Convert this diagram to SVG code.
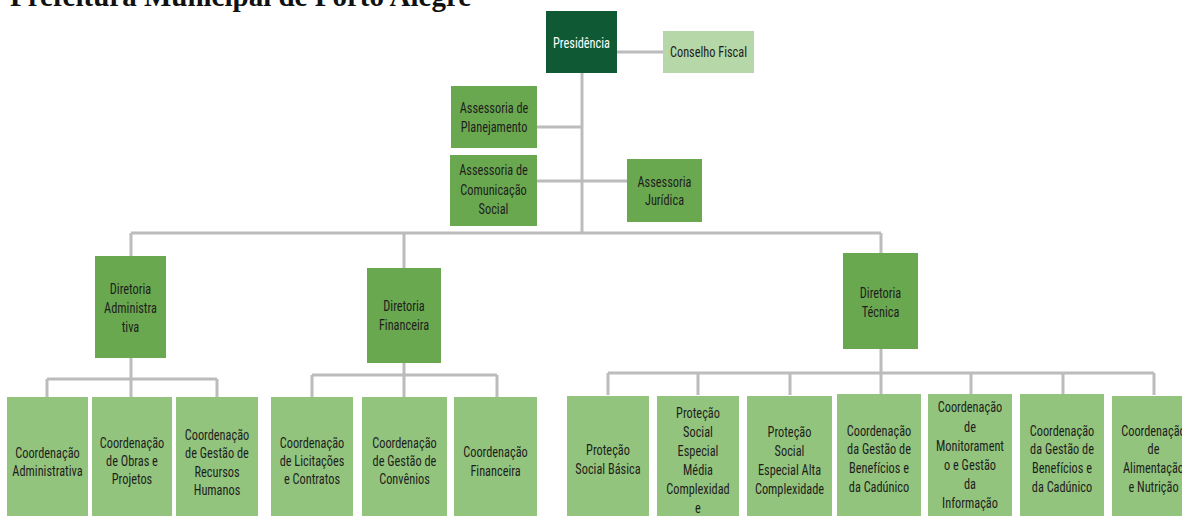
<svg xmlns="http://www.w3.org/2000/svg" width="1182" height="516" viewBox="0 0 1182 516">
  <style>
    .bg { fill: #ffffff; }
    .title { font-family: "Liberation Serif", "Times New Roman", serif; font-weight: bold; font-size: 29px; fill: #111111; }
    .lbl { font-family: "Liberation Sans Narrow", "Arial Narrow", "Roboto Condensed", sans-serif; font-size: 14.5px; fill: #1e1e1e; text-anchor: middle; }
    .lbl-w { fill: #ffffff; }
    .dark { fill: #0f5a35; }
    .mid { fill: #6aa84f; }
    .pale { fill: #b6d7a8; }
    .light { fill: #93c47d; }
    .conn { fill: none; stroke: #bcbcbc; stroke-width: 3; }
  </style>

  <rect class="bg" x="0" y="0" width="1182" height="516"/>

  <text class="title" x="10" y="6">Prefeitura Municipal de Porto Alegre</text>

  <!-- connectors -->
  <g id="connectors" class="conn">
    <path d="M617,52 H663"/>
    <path d="M582,73 V233"/>
    <path d="M537,127 H582"/>
    <path d="M537,181 H627"/>
    <path d="M131,233 H881"/>
    <path d="M131,233 V256 M404,233 V268 M881,233 V253"/>
    <!-- Diretoria Administrativa -->
    <path d="M131,358 V397 M47,379 H217 M47,379 V397 M217,379 V397"/>
    <!-- Diretoria Financeira -->
    <path d="M404,363 V397 M312,375 H497 M312,375 V397 M497,375 V397"/>
    <!-- Diretoria Técnica -->
    <path d="M881,349 V395 M608,373 H1154 M608,373 V395 M698,373 V395 M790,373 V395 M971,373 V395 M1063,373 V395 M1154,373 V395"/>
  </g>

  <!-- labels are set in a condensed face: each text is centred at its box
       centre via translate() and narrowed with scale(0.85 1) -->

  <!-- top level -->
  <g id="presidencia">
    <rect class="dark" x="546" y="11" width="71" height="62"/>
    <text class="lbl lbl-w" transform="translate(581.5 0) scale(0.85 1)" x="0" y="48">Presidência</text>
  </g>
  <g id="conselho-fiscal">
    <rect class="pale" x="663" y="31" width="91" height="42"/>
    <text class="lbl" transform="translate(708.5 0) scale(0.85 1)" x="0" y="57.5">Conselho Fiscal</text>
  </g>
  <g id="assessoria-planejamento">
    <rect class="mid" x="451" y="86" width="86" height="62"/>
    <text class="lbl" transform="translate(494 0) scale(0.85 1)"><tspan x="0" y="113">Assessoria de</tspan><tspan x="0" y="132">Planejamento</tspan></text>
  </g>
  <g id="assessoria-comunicacao">
    <rect class="mid" x="450" y="155" width="87" height="71"/>
    <text class="lbl" transform="translate(493.5 0) scale(0.85 1)"><tspan x="0" y="175">Assessoria de</tspan><tspan x="0" y="195">Comunicação</tspan><tspan x="0" y="214">Social</tspan></text>
  </g>
  <g id="assessoria-juridica">
    <rect class="mid" x="627" y="159" width="75" height="63"/>
    <text class="lbl" transform="translate(664.5 0) scale(0.85 1)"><tspan x="0" y="187">Assessoria</tspan><tspan x="0" y="205">Jurídica</tspan></text>
  </g>

  <!-- directorates -->
  <g id="diretoria-administrativa">
    <rect class="mid" x="95" y="256" width="71" height="102"/>
    <text class="lbl" transform="translate(130.5 0) scale(0.85 1)"><tspan x="0" y="294">Diretoria</tspan><tspan x="0" y="313">Administra</tspan><tspan x="0" y="332">tiva</tspan></text>
  </g>
  <g id="diretoria-financeira">
    <rect class="mid" x="367" y="268" width="74" height="95"/>
    <text class="lbl" transform="translate(404 0) scale(0.85 1)"><tspan x="0" y="311">Diretoria</tspan><tspan x="0" y="330">Financeira</tspan></text>
  </g>
  <g id="diretoria-tecnica">
    <rect class="mid" x="843" y="253" width="75" height="96"/>
    <text class="lbl" transform="translate(880.5 0) scale(0.85 1)"><tspan x="0" y="298">Diretoria</tspan><tspan x="0" y="317">Técnica</tspan></text>
  </g>

  <!-- coordinations -->
  <g id="coord-administrativa">
    <rect class="light" x="7" y="397" width="81" height="125"/>
    <text class="lbl" transform="translate(47.5 0) scale(0.85 1)"><tspan x="0" y="458">Coordenação</tspan><tspan x="0" y="476">Administrativa</tspan></text>
  </g>
  <g id="coord-obras-projetos">
    <rect class="light" x="92" y="397" width="80" height="125"/>
    <text class="lbl" transform="translate(132 0) scale(0.85 1)"><tspan x="0" y="448">Coordenação</tspan><tspan x="0" y="466">de Obras e</tspan><tspan x="0" y="484">Projetos</tspan></text>
  </g>
  <g id="coord-recursos-humanos">
    <rect class="light" x="176" y="397" width="82" height="125"/>
    <text class="lbl" transform="translate(217 0) scale(0.85 1)"><tspan x="0" y="440">Coordenação</tspan><tspan x="0" y="458">de Gestão de</tspan><tspan x="0" y="477">Recursos</tspan><tspan x="0" y="495">Humanos</tspan></text>
  </g>
  <g id="coord-licitacoes">
    <rect class="light" x="271" y="397" width="82" height="125"/>
    <text class="lbl" transform="translate(312 0) scale(0.85 1)"><tspan x="0" y="448">Coordenação</tspan><tspan x="0" y="466">de Licitações</tspan><tspan x="0" y="484">e Contratos</tspan></text>
  </g>
  <g id="coord-convenios">
    <rect class="light" x="362" y="397" width="85" height="125"/>
    <text class="lbl" transform="translate(404.5 0) scale(0.85 1)"><tspan x="0" y="448">Coordenação</tspan><tspan x="0" y="466">de Gestão de</tspan><tspan x="0" y="484">Convênios</tspan></text>
  </g>
  <g id="coord-financeira">
    <rect class="light" x="454" y="397" width="83" height="125"/>
    <text class="lbl" transform="translate(495.5 0) scale(0.85 1)"><tspan x="0" y="457">Coordenação</tspan><tspan x="0" y="476">Financeira</tspan></text>
  </g>
  <g id="protecao-basica">
    <rect class="light" x="567" y="396" width="82" height="126"/>
    <text class="lbl" transform="translate(608 0) scale(0.85 1)"><tspan x="0" y="455">Proteção</tspan><tspan x="0" y="474">Social Básica</tspan></text>
  </g>
  <g id="protecao-media">
    <rect class="light" x="657" y="396" width="82" height="126"/>
    <text class="lbl" transform="translate(698 0) scale(0.85 1)"><tspan x="0" y="418">Proteção</tspan><tspan x="0" y="437">Social</tspan><tspan x="0" y="456">Especial</tspan><tspan x="0" y="475">Média</tspan><tspan x="0" y="494">Complexidad</tspan><tspan x="0" y="513">e</tspan></text>
  </g>
  <g id="protecao-alta">
    <rect class="light" x="747" y="396" width="85" height="126"/>
    <text class="lbl" transform="translate(789.5 0) scale(0.85 1)"><tspan x="0" y="437">Proteção</tspan><tspan x="0" y="456">Social</tspan><tspan x="0" y="475">Especial Alta</tspan><tspan x="0" y="494">Complexidade</tspan></text>
  </g>
  <g id="coord-beneficios-1">
    <rect class="light" x="837" y="394" width="84" height="128"/>
    <text class="lbl" transform="translate(879 0) scale(0.85 1)"><tspan x="0" y="436">Coordenação</tspan><tspan x="0" y="454">da Gestão de</tspan><tspan x="0" y="473">Benefícios e</tspan><tspan x="0" y="492">da Cadúnico</tspan></text>
  </g>
  <g id="coord-monitoramento">
    <rect class="light" x="928" y="394" width="84" height="128"/>
    <text class="lbl" transform="translate(970 0) scale(0.85 1)"><tspan x="0" y="412">Coordenação</tspan><tspan x="0" y="432">de</tspan><tspan x="0" y="451">Monitorament</tspan><tspan x="0" y="470">o e Gestão</tspan><tspan x="0" y="489">da</tspan><tspan x="0" y="508">Informação</tspan></text>
  </g>
  <g id="coord-beneficios-2">
    <rect class="light" x="1020" y="394" width="84" height="128"/>
    <text class="lbl" transform="translate(1062 0) scale(0.85 1)"><tspan x="0" y="436">Coordenação</tspan><tspan x="0" y="454">da Gestão de</tspan><tspan x="0" y="473">Benefícios e</tspan><tspan x="0" y="492">da Cadúnico</tspan></text>
  </g>
  <g id="coord-alimentacao">
    <rect class="light" x="1112" y="396" width="83" height="126"/>
    <text class="lbl" transform="translate(1153.5 0) scale(0.85 1)"><tspan x="0" y="436">Coordenação</tspan><tspan x="0" y="454">de</tspan><tspan x="0" y="473">Alimentação</tspan><tspan x="0" y="492">e Nutrição</tspan></text>
  </g>
</svg>
